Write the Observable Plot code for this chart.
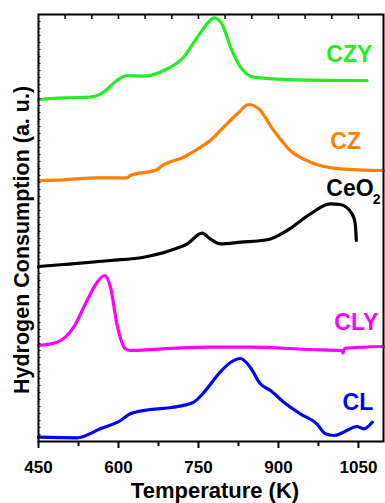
<!DOCTYPE html>
<html>
<head>
<meta charset="utf-8">
<script src="https://cdn.jsdelivr.net/npm/d3@7"></script>
<script src="https://cdn.jsdelivr.net/npm/@observablehq/plot@0.6"></script>
<style>
  html, body { margin: 0; padding: 0; background: #fff; }
  #chart svg { display: block; }
</style>
</head>
<body>
<div id="chart"></div>
<script>
// Temperature (K) and hydrogen consumption (a.u., offset stacked) per sample
const czyT = [450, 497, 547, 572, 597, 616, 647, 685, 722, 748, 772, 779, 794, 810, 829, 854, 929, 1066];
const czyV = [342, 343.7, 344.3, 349.3, 361, 366, 365.3, 371, 384.3, 404.3, 421, 423.7, 417.7, 394.3, 374.3, 364.3, 361.7, 361];

const czT = [450, 497, 560, 616, 622, 672, 682, 691, 722, 754, 772, 791, 823, 844, 863, 891, 922, 960, 1016, 1097];
const czV = [261, 261.7, 263.7, 263.7, 266, 271.7, 276, 278.3, 284.3, 294.3, 301, 311, 327.7, 337, 332.7, 311, 291, 279.3, 272.7, 271];

const ceT = [450, 497, 585, 647, 697, 729, 757, 772, 791, 829, 879, 916, 960, 997, 1016, 1038, 1044, 1046];
const ceV = [175, 177, 181, 184.3, 191, 197.7, 208.3, 202.7, 197.7, 199.3, 201.7, 211, 227.7, 237.7, 237, 227.7, 217.7, 201];

const clyT = [450, 485, 516, 541, 560, 574, 585, 597, 613, 622, 716, 772, 847, 960, 1019, 1021, 1023, 1026, 1097];
const clyV = [96, 99.3, 114.3, 141, 159.3, 166, 154.3, 117.7, 92.7, 91, 93.7, 94.3, 94.3, 92, 91, 88.7, 92, 93.3, 95];

const clT = [450, 522, 566, 604, 622, 660, 700, 740, 760, 790, 810, 829, 847, 866, 885, 910, 941, 972, 988, 1004, 1022, 1047, 1060, 1076];
const clV = [4.3, 3.7, 12.7, 21, 27.7, 32, 34, 39, 49, 69, 79, 83, 74.3, 57.7, 51, 39.3, 27.7, 17.7, 7.7, 6, 9.3, 15, 12.7, 19.3];

const seriesNames = ["CZY", "CZ", "CeO2", "CLY", "CL"];
const seriesColors = ["#22ee22", "#ff8000", "#000000", "#ff00ff", "#0000ff"];

const labelText = ["CZY", "CZ", "CeO", "CLY", "CL"];
const labelT = [1033, 1026, 1034, 1046, 1049];
const labelV = [387, 300, 252.5, 119, 38.5];

const majorTicks = [450, 600, 750, 900, 1050];
const minorTicks = [525, 675, 825, 975];

const xTitle = "Temperature (K)";
const yTitle = "Hydrogen Consumption (a. u.)";

const tables = [[czyT, czyV], [czT, czV], [ceT, ceV], [clyT, clyV], [clT, clV]];
const rows = [];
tables.forEach(([ts, vs], i) => ts.forEach((t, j) => rows.push({s: seriesNames[i], t, v: vs[j]})));
const labels = labelText.map((text, i) => ({text, t: labelT[i], v: labelV[i], c: seriesColors[i]}));

const font = "Liberation Sans, Arial, sans-serif";

const plot = Plot.plot({
  width: 385,
  height: 503,
  marginLeft: 38,
  marginRight: 2,
  marginTop: 14,
  marginBottom: 62,
  style: {fontFamily: font, background: "#fff", overflow: "visible"},
  x: {domain: [450, 1097]},
  y: {domain: [0, 427]},
  color: {domain: seriesNames, range: seriesColors},
  marks: [
    Plot.line(rows, {x: "t", y: "v", z: "s", stroke: "s", strokeWidth: 3.2, curve: "monotone-x"}),
    Plot.text(labels, {x: "t", y: "v", text: "text", fill: "c", fontSize: 23, fontWeight: "bold"}),
    Plot.text(["2"], {x: [1084], y: [242], fontSize: 14, fontWeight: "bold", fill: "#000"}),
    Plot.axisX({ticks: majorTicks, tickSize: 7, tickPadding: 12, tickFormat: d3.format("d"), fontSize: 17, fontWeight: "bold", label: null, strokeWidth: 2}),
    Plot.axisX({ticks: minorTicks, tickSize: 5, tickFormat: null, text: null, label: null, strokeWidth: 2}),
    Plot.axisX({anchor: "top", ticks: d3.range(500, 1097, 50), tickSize: -4, text: null, label: null, strokeWidth: 1.5}),
    Plot.axisY({ticks: d3.range(0, 427, 7), tickSize: -2.5, text: null, label: null, strokeWidth: 1}),
    Plot.frame({stroke: "#000", strokeWidth: 2}),
    Plot.text([xTitle], {frameAnchor: "bottom", lineAnchor: "middle", dy: 49, dx: 4, fontSize: 22, fontWeight: "bold", fill: "#000"}),
    Plot.text([yTitle], {frameAnchor: "left", textAnchor: "middle", lineAnchor: "middle", dx: -16, dy: 12, rotate: -90, fontSize: 21.5, fontWeight: "bold", fill: "#000"})
  ]
});
document.getElementById("chart").appendChild(plot);
</script>
</body>
</html>
